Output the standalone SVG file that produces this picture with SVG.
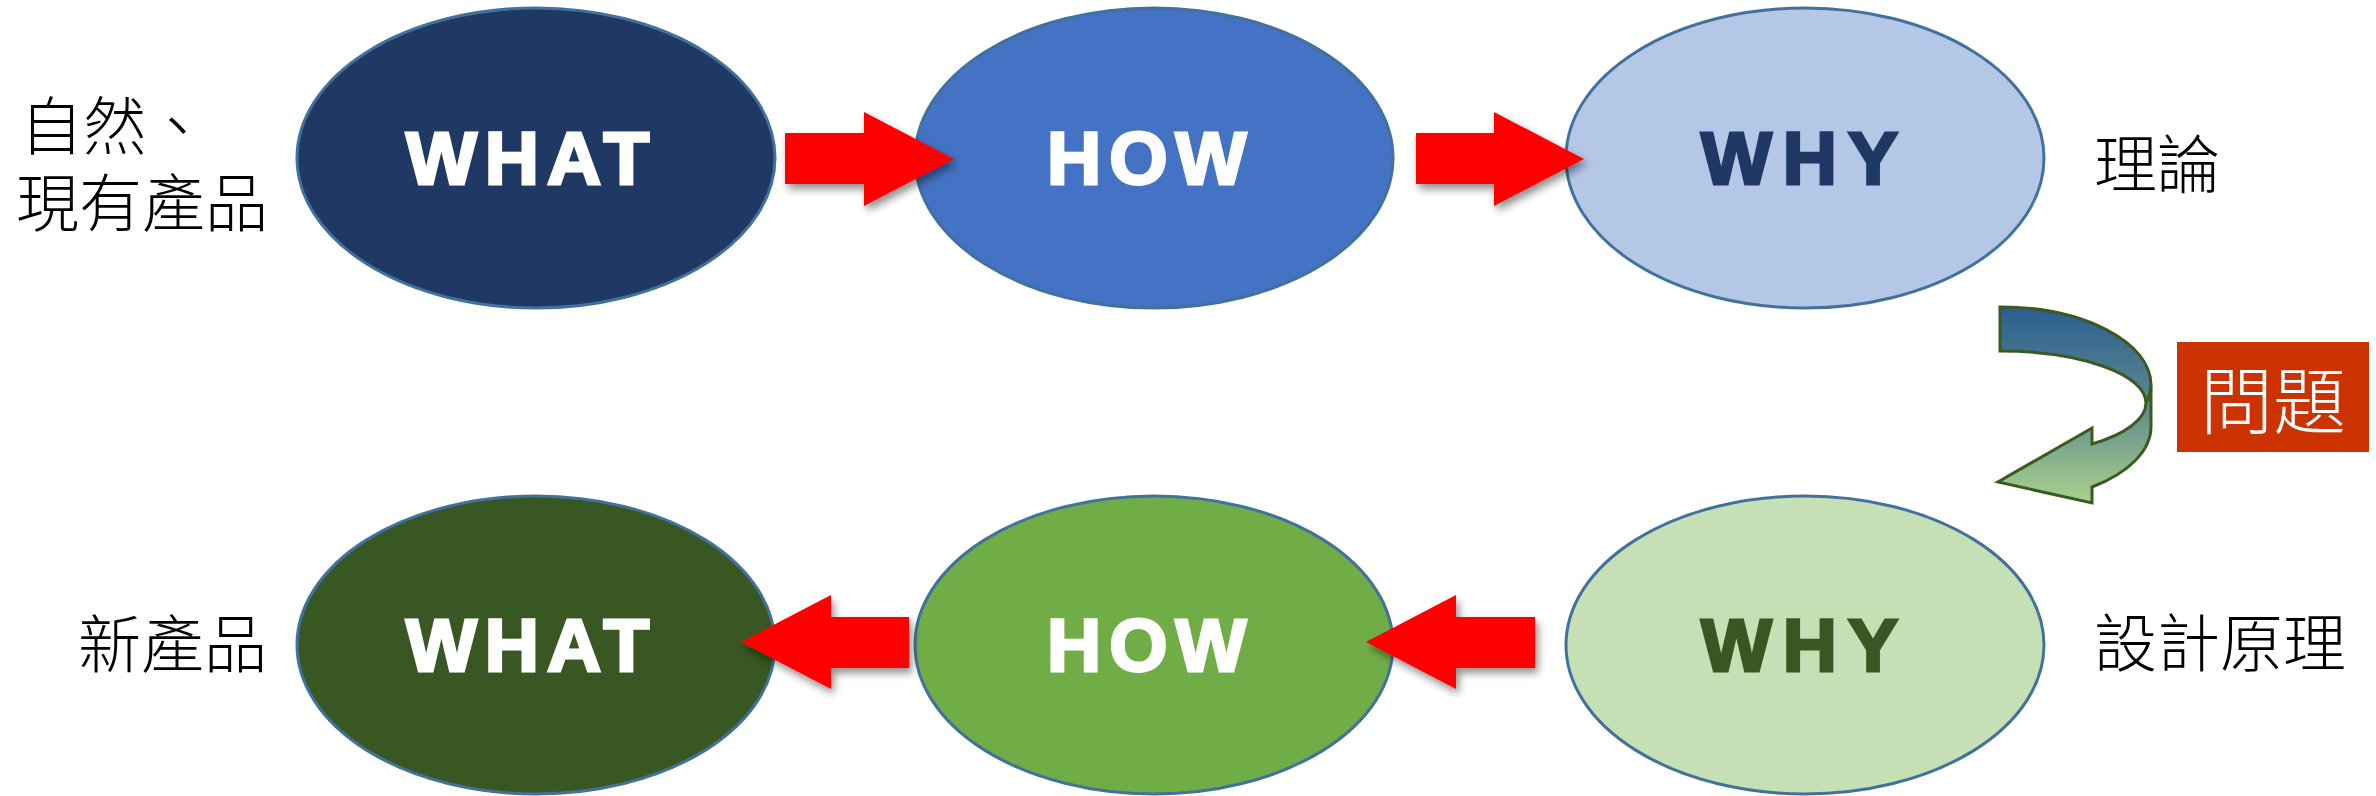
<svg xmlns="http://www.w3.org/2000/svg" width="2376" height="796" viewBox="0 0 2376 796">
  <style>
    .node { stroke: #41719C; stroke-width: 3; }
    .lbl { font-family: "Liberation Sans", Arial, sans-serif; font-weight: bold; font-size: 75px; letter-spacing: 8px; stroke-width: 3; stroke-linejoin: miter; }
    .cjk { font-family: "Liberation Sans", "Noto Sans CJK TC", "Noto Sans CJK SC", sans-serif; font-size: 63px; fill: #000000; font-weight: 300; }
    .arrow { fill: #FF0000; filter: url(#shadow); }
  </style>
  <defs>
    <filter id="shadow" x="-20%" y="-20%" width="150%" height="160%">
      <feGaussianBlur in="SourceAlpha" stdDeviation="4"/>
      <feOffset dx="3" dy="5" result="b"/>
      <feComponentTransfer><feFuncA type="linear" slope="0.45"/></feComponentTransfer>
      <feMerge><feMergeNode/><feMergeNode in="SourceGraphic"/></feMerge>
    </filter>
    <linearGradient id="curveGrad" x1="0" y1="307" x2="0" y2="503" gradientUnits="userSpaceOnUse">
      <stop offset="0" stop-color="#2A5E92"/>
      <stop offset="0.5" stop-color="#5F8A8C"/>
      <stop offset="1" stop-color="#A9D18E"/>
    </linearGradient>
  </defs>
  <rect width="2376" height="796" fill="#FFFFFF"/>

  <g id="label-natural">
    <text class="cjk"><tspan x="20" y="149">自然、</tspan><tspan x="16" y="226">現有產品</tspan></text>
  </g>
  <g id="label-theory"><text class="cjk" x="2094" y="187">理論</text></g>
  <g id="label-design"><text class="cjk" x="2094" y="666">設計原理</text></g>
  <g id="label-newproduct"><text class="cjk" x="78" y="667">新產品</text></g>

  <g id="node-what-top">
    <ellipse class="node" cx="536" cy="158" rx="239" ry="150" fill="#203864"/>
    <text class="lbl" x="406" y="184" fill="#FFFFFF" stroke="#FFFFFF">WHAT</text>
  </g>
  <g id="node-how-top">
    <ellipse class="node" cx="1154" cy="158" rx="239" ry="150" fill="#4472C4"/>
    <text class="lbl" x="1047" y="184" fill="#FFFFFF" stroke="#FFFFFF">HOW</text>
  </g>
  <g id="node-why-top">
    <ellipse class="node" cx="1805" cy="158" rx="239" ry="150" fill="#B4C7E7"/>
    <text class="lbl" x="1701" y="184" fill="#203864" stroke="#203864" style="letter-spacing:11px">WHY</text>
  </g>

  <g id="node-what-bottom">
    <ellipse class="node" cx="536" cy="645" rx="239" ry="149" fill="#385723"/>
    <text class="lbl" x="406" y="671" fill="#FFFFFF" stroke="#FFFFFF">WHAT</text>
  </g>
  <g id="node-how-bottom">
    <ellipse class="node" cx="1154" cy="645" rx="239" ry="149" fill="#70AD47"/>
    <text class="lbl" x="1047" y="671" fill="#FFFFFF" stroke="#FFFFFF">HOW</text>
  </g>
  <g id="node-why-bottom">
    <ellipse class="node" cx="1805" cy="645" rx="239" ry="149" fill="#C5E0B4"/>
    <text class="lbl" x="1701" y="671" fill="#385723" stroke="#385723" style="letter-spacing:11px">WHY</text>
  </g>

  <g id="node-problem">
    <rect x="2177" y="342" width="192" height="110" fill="#CC3300"/>
    <text x="2200" y="428" font-family="Noto Sans CJK TC, Noto Sans CJK SC, sans-serif" font-size="73" font-weight="300" fill="#FFFFFF">問題</text>
  </g>

  <g id="connectors">
    <path class="arrow" d="M785 133 L864 133 L864 112 L954 159 L864 206 L864 184 L785 184 Z"/>
    <path class="arrow" d="M1416 133 L1494 133 L1494 112 L1584 159 L1494 206 L1494 184 L1416 184 Z"/>
    <path class="arrow" d="M1535 617 L1456 617 L1456 595 L1366 642 L1456 689 L1456 668 L1535 668 Z"/>
    <path class="arrow" d="M909 617 L831 617 L831 595 L741 642 L831 689 L831 668 L909 668 Z"/>
    <g id="curved-arrow">
      <path d="M2000 307 C2083 307 2151 342 2151 385 L2151 427 A151 76 0 0 1 2092 487 L2092 503 L1998 482 L2092 428 L2092 444 A146 53 0 0 0 2146 403 A146 52 0 0 0 2000 351 Z" fill="url(#curveGrad)" stroke="#3A5A22" stroke-width="3" stroke-linejoin="miter"/>
      <path d="M2151 385 Q2150 396 2146 403" fill="none" stroke="#3A5A22" stroke-width="3"/>
    </g>
  </g>
</svg>
